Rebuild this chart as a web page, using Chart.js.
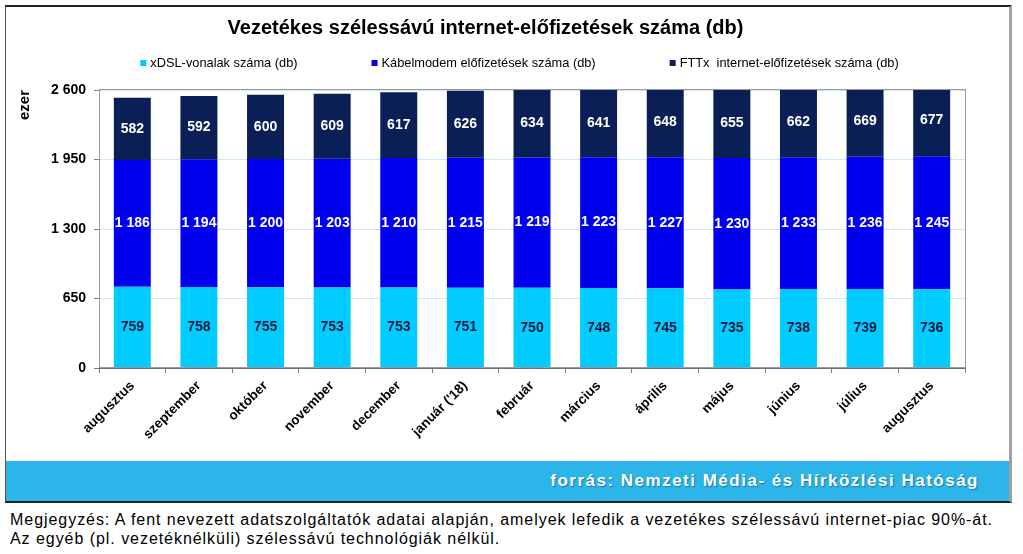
<!DOCTYPE html>
<html lang="hu">
<head>
    <meta charset="UTF-8">
    <title>Vezetékes szélessávú internet-előfizetések száma</title>
    <script src="https://cdn.jsdelivr.net/npm/chart.js"></script>
    <style>
        body {
            margin: 0;
            background: #ffffff;
            font-family: 'Liberation Sans', Arial, sans-serif;
            width: 1023px;
            height: 554px;
            position: relative;
            overflow: hidden;
        }

        #box {
            position: absolute;
            left: 5px;
            top: 5px;
            width: 1003px;
            border-left: 1px solid #555555;
            border-top: 2px solid #222222;
            border-right: 3px solid #a0a0a0;
            border-bottom: 2px solid #222222;
        }

        #chart-wrap {
            width: 1003px;
            height: 454px;
            position: relative;
        }

        #source {
            height: 40px;
            background: #2bb5e8;
            color: #ffffff;
            font-weight: bold;
            font-size: 17px;
            letter-spacing: 1.5px;
            text-align: right;
            line-height: 40px;
            padding-right: 30px;
            text-shadow: 1px 1px 1px rgba(0, 60, 100, 0.5);
        }

        #note {
            position: absolute;
            left: 10px;
            top: 510px;
            font-size: 16px;
            letter-spacing: 0.95px;
            line-height: 19px;
            color: #000000;
            white-space: nowrap;
        }
    </style>
</head>
<body>
    <div id="box">
        <div id="chart-wrap">
            <canvas id="subsChart"></canvas>
        </div>
        <div id="source">forrás: Nemzeti Média- és Hírközlési Hatóság</div>
    </div>
    <div id="note">
        Megjegyzés: A fent nevezett adatszolgáltatók adatai alapján, amelyek lefedik a vezetékes szélessávú internet-piac 90%-át.<br>
        Az egyéb (pl. vezetéknélküli) szélessávú technológiák nélkül.
    </div>
    <script>
        const months = ['augusztus', 'szeptember', 'október', 'november', 'december', "január ('18)",
            'február', 'március', 'április', 'május', 'június', 'július', 'augusztus'];
        const xdsl = [759, 758, 755, 753, 753, 751, 750, 748, 745, 735, 738, 739, 736];
        const cable = [1186, 1194, 1200, 1203, 1210, 1215, 1219, 1223, 1227, 1230, 1233, 1236, 1245];
        const fttx = [582, 592, 600, 609, 617, 626, 634, 641, 648, 655, 662, 669, 677];
        const seriesNames = ['xDSL-vonalak száma (db)', 'Kábelmodem előfizetések száma (db)', 'FTTx  internet-előfizetések száma (db)'];
        const yTicks = [0, 650, 1300, 1950, 2600];

        const FONT = "'Liberation Sans', Arial, sans-serif";

        // 2600 -> "2 600"
        function fmt(n) {
            return String(n).replace(/\B(?=(\d{3})+(?!\d))/g, ' ');
        }

        // grey frame round the plot area
        const plotFrame = {
            id: 'plotFrame',
            afterDatasetsDraw(chart) {
                const a = chart.chartArea;
                const ctx = chart.ctx;
                ctx.save();
                ctx.strokeStyle = '#9a9a9a';
                ctx.lineWidth = 1;
                ctx.strokeRect(a.left + 0.5, a.top - 0.5, a.right - a.left, a.bottom - a.top);
                ctx.restore();
            }
        };

        // numbers in the middle of each bar piece
        const valueLabels = {
            id: 'valueLabels',
            afterDatasetsDraw(chart) {
                const ctx = chart.ctx;
                ctx.save();
                ctx.font = 'bold 14px ' + FONT;
                ctx.textAlign = 'center';
                ctx.textBaseline = 'middle';
                chart.data.datasets.forEach((ds, i) => {
                    chart.getDatasetMeta(i).data.forEach((bar, j) => {
                        const p = bar.getCenterPoint();
                        ctx.fillStyle = i === 0 ? '#0d1b3e' : '#ffffff';
                        ctx.fillText(fmt(ds.data[j]), p.x, p.y);
                    });
                });
                ctx.restore();
            }
        };

        // one-row legend with wide gaps between the items
        const wideLegend = {
            id: 'wideLegend',
            afterDraw(chart) {
                const ctx = chart.ctx;
                const box = 6, gap = 74, textGap = 4;
                ctx.save();
                ctx.font = '12.8px ' + FONT;
                ctx.textBaseline = 'middle';
                const widths = chart.data.datasets.map(ds => box + textGap + ctx.measureText(ds.label).width);
                const total = widths.reduce((s, w) => s + w, 0) + gap * (widths.length - 1);
                let x = (chart.width - total) / 2 + 12;
                const y = 56;
                chart.data.datasets.forEach((ds, i) => {
                    ctx.fillStyle = ds.backgroundColor;
                    ctx.fillRect(x, y - box / 2, box, box);
                    ctx.fillStyle = '#000000';
                    ctx.fillText(ds.label, x + box + textGap, y);
                    x += widths[i] + gap;
                });
                ctx.restore();
            }
        };

        const ctx = document.getElementById('subsChart').getContext('2d');
        const chart = new Chart(ctx, {
            type: 'bar',
            data: {
                labels: months,
                datasets: [
                    { label: seriesNames[0], data: xdsl, backgroundColor: '#00ccff' },
                    { label: seriesNames[1], data: cable, backgroundColor: '#0000ee' },
                    { label: seriesNames[2], data: fttx, backgroundColor: '#0a1f56' }
                ]
            },
            options: {
                responsive: true,
                maintainAspectRatio: false,
                animation: false,
                layout: { padding: { left: 0, right: 44, top: 0, bottom: 0 } },
                datasets: {
                    bar: { categoryPercentage: 1, barPercentage: 0.555 }
                },
                scales: {
                    x: {
                        stacked: true,
                        grid: {
                            drawOnChartArea: false,
                            tickLength: 5,
                            color: '#808080'
                        },
                        border: { color: '#707070' },
                        ticks: {
                            autoSkip: false,
                            minRotation: 45,
                            maxRotation: 45,
                            padding: 5,
                            color: '#000000',
                            font: { family: FONT, size: 13.5, weight: 'bold' }
                        },
                        afterFit(scale) { scale.height = 93; }
                    },
                    y: {
                        stacked: true,
                        min: 0,
                        max: 2600,
                        afterBuildTicks(scale) {
                            scale.ticks = yTicks.map(v => ({ value: v }));
                        },
                        grid: {
                            color: '#c8e9f6',
                            tickColor: '#808080',
                            tickLength: 5
                        },
                        border: { color: '#707070' },
                        ticks: {
                            padding: 8,
                            color: '#000000',
                            font: { family: FONT, size: 14, weight: 'bold' },
                            callback: v => fmt(v)
                        },
                        title: {
                            display: true,
                            text: 'ezer',
                            align: 'end',
                            color: '#000000',
                            padding: { top: 10, bottom: 0 },
                            font: { family: FONT, size: 15, weight: 'bold' }
                        },
                        afterFit(scale) { scale.width = 93; }
                    }
                },
                plugins: {
                    legend: { display: false },
                    tooltip: { enabled: false },
                    title: {
                        display: true,
                        text: 'Vezetékes szélessávú internet-előfizetések száma (db)',
                        color: '#000000',
                        padding: { top: 9, bottom: 50 },
                        font: { family: FONT, size: 20, weight: 'bold' }
                    }
                }
            },
            plugins: [plotFrame, valueLabels, wideLegend]
        });
    </script>
</body>
</html>
